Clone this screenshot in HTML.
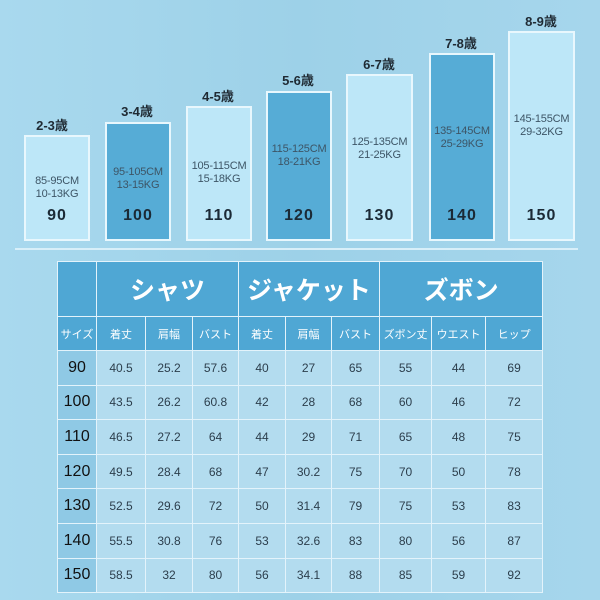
<!DOCTYPE html>
<html><head><meta charset="utf-8"><style>
body{margin:0;width:600px;height:600px;overflow:hidden;background:linear-gradient(90deg,#a9d9ee,#9dd1e8 50%,#a6d6ec);font-family:"Liberation Sans","Noto Sans CJK JP",sans-serif;position:relative}
.box{position:absolute;box-sizing:border-box;border:2px solid #e8f7fd;text-align:center;color:#3d5566}
.l{background:#bde7f8}.d{background:#56acd6}
.box .t{position:absolute;left:0;right:0;font-size:11px;line-height:13px;letter-spacing:-0.2px}
.box .n{position:absolute;left:0;right:0;bottom:14px;font-size:16px;font-weight:bold;color:#1b2a36;letter-spacing:1px}
.age{position:absolute;width:80px;text-align:center;font-size:13px;font-weight:bold;color:#1f2a33}
.hr{position:absolute;left:15px;width:563px;top:248px;height:2px;background:#d8eff9}
table{position:absolute;left:57px;top:261px;border-collapse:collapse;width:485px;table-layout:fixed}
td{border:1.5px solid #e3f3fb;text-align:center;padding:0;color:#2c3e4c;font-size:12px;background:#b3dcef}
tr.h1 td{background:#4fa7d4;color:#fff;font-size:25px;font-weight:bold;height:54px}
tr.h2 td{background:#4fa7d4;color:#fff;font-size:11px;height:33px}
tr.r td{height:33.6px}
tr.r td:first-child{background:#8fc9e5;font-size:16px;color:#111}
</style></head><body>
<div class="age" style="left:12px;top:115px">2-3歳</div>
<div class="box l" style="left:24px;top:135px;width:66px;height:106px"><div class="t" style="top:38px">85-95CM<br>10-13KG</div><div class="n">90</div></div>
<div class="age" style="left:97px;top:101px">3-4歳</div>
<div class="box d" style="left:105px;top:122px;width:66px;height:119px"><div class="t" style="top:42px">95-105CM<br>13-15KG</div><div class="n">100</div></div>
<div class="age" style="left:178px;top:86px">4-5歳</div>
<div class="box l" style="left:186px;top:106px;width:66px;height:135px"><div class="t" style="top:52px">105-115CM<br>15-18KG</div><div class="n">110</div></div>
<div class="age" style="left:258px;top:70px">5-6歳</div>
<div class="box d" style="left:266px;top:91px;width:66px;height:150px"><div class="t" style="top:50px">115-125CM<br>18-21KG</div><div class="n">120</div></div>
<div class="age" style="left:339px;top:54px">6-7歳</div>
<div class="box l" style="left:346px;top:74px;width:67px;height:167px"><div class="t" style="top:60px">125-135CM<br>21-25KG</div><div class="n">130</div></div>
<div class="age" style="left:421px;top:33px">7-8歳</div>
<div class="box d" style="left:429px;top:53px;width:66px;height:188px"><div class="t" style="top:70px">135-145CM<br>25-29KG</div><div class="n">140</div></div>
<div class="age" style="left:501px;top:11px">8-9歳</div>
<div class="box l" style="left:508px;top:31px;width:67px;height:210px"><div class="t" style="top:80px">145-155CM<br>29-32KG</div><div class="n">150</div></div>
<div class="hr"></div>
<table>
<colgroup><col style="width:39px"><col style="width:49px"><col style="width:47px"><col style="width:46px"><col style="width:47px"><col style="width:46px"><col style="width:48px"><col style="width:52px"><col style="width:54px"><col style="width:57px"></colgroup>
<tr class="h1"><td></td><td colspan="3">シャツ</td><td colspan="3">ジャケット</td><td colspan="3">ズボン</td></tr>
<tr class="h2"><td>サイズ</td><td>着丈</td><td>肩幅</td><td>バスト</td><td>着丈</td><td>肩幅</td><td>バスト</td><td>ズボン丈</td><td>ウエスト</td><td>ヒップ</td></tr>
<tr class="r"><td>90</td><td>40.5</td><td>25.2</td><td>57.6</td><td>40</td><td>27</td><td>65</td><td>55</td><td>44</td><td>69</td></tr>
<tr class="r"><td>100</td><td>43.5</td><td>26.2</td><td>60.8</td><td>42</td><td>28</td><td>68</td><td>60</td><td>46</td><td>72</td></tr>
<tr class="r"><td>110</td><td>46.5</td><td>27.2</td><td>64</td><td>44</td><td>29</td><td>71</td><td>65</td><td>48</td><td>75</td></tr>
<tr class="r"><td>120</td><td>49.5</td><td>28.4</td><td>68</td><td>47</td><td>30.2</td><td>75</td><td>70</td><td>50</td><td>78</td></tr>
<tr class="r"><td>130</td><td>52.5</td><td>29.6</td><td>72</td><td>50</td><td>31.4</td><td>79</td><td>75</td><td>53</td><td>83</td></tr>
<tr class="r"><td>140</td><td>55.5</td><td>30.8</td><td>76</td><td>53</td><td>32.6</td><td>83</td><td>80</td><td>56</td><td>87</td></tr>
<tr class="r"><td>150</td><td>58.5</td><td>32</td><td>80</td><td>56</td><td>34.1</td><td>88</td><td>85</td><td>59</td><td>92</td></tr>
</table>
</body></html>
